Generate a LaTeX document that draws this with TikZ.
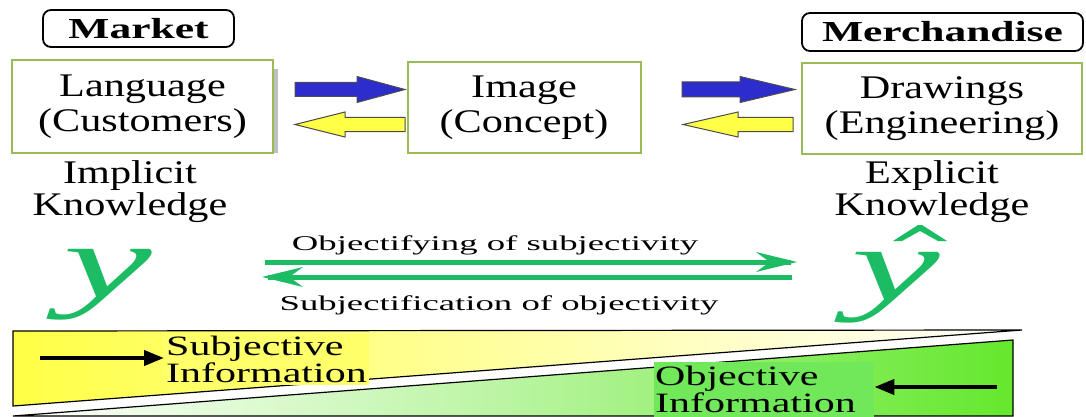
\documentclass[tikz,border=0pt]{standalone}
\usepackage{fontspec}
\setmainfont{Liberation Serif}
\newfontfamily\bigtxt[FakeStretch=1.28]{Liberation Serif}
\newfontfamily\lbltxt[FakeStretch=1.5]{Liberation Serif}
\newfontfamily\midtxt[FakeStretch=1.75]{Liberation Serif}
\newfontfamily\infotxt[FakeStretch=1.5]{Liberation Serif}
\newfontfamily\yfont[FakeStretch=1.9]{Liberation Serif}
\usetikzlibrary{arrows.meta,calc}
\definecolor{boxgreen}{RGB}{155,187,89}
\definecolor{ygreen}{RGB}{28,188,100}
\definecolor{ablue}{RGB}{45,45,205}
\definecolor{ayellow}{RGB}{255,255,70}
\definecolor{tyellow}{RGB}{255,255,105}
\definecolor{tgreen}{RGB}{100,232,45}
\definecolor{ogreen}{RGB}{112,232,90}
\newcommand{\rblock}[6]{% x1, x2 (tip), yc, head length, shaft half, head half
  \filldraw[blockarr,fill=ablue] (#1,{#3-#5}) -- ({#2-#4},{#3-#5}) -- ({#2-#4},{#3-#6}) -- (#2,#3)
    -- ({#2-#4},{#3+#6}) -- ({#2-#4},{#3+#5}) -- (#1,{#3+#5}) -- cycle;}
\newcommand{\lblock}[6]{% x1 (tip), x2, yc, head length, shaft half, head half
  \filldraw[blockarr,fill=ayellow] (#2,{#3-#5}) -- ({#1+#4},{#3-#5}) -- ({#1+#4},{#3-#6}) -- (#1,#3)
    -- ({#1+#4},{#3+#6}) -- ({#1+#4},{#3+#5}) -- (#2,{#3+#5}) -- cycle;}
\begin{document}
\begin{tikzpicture}[x=1pt,y=-1pt,
  cbox/.style={draw=boxgreen,line width=2pt,fill=white,align=center,inner sep=0pt,
    font=\bigtxt\fontsize{33}{35}\selectfont},
  tagbox/.style={draw=black,line width=1.8pt,rounded corners=8pt,inner sep=0pt,
    font=\lbltxt\bfseries\fontsize{29}{30}\selectfont},
  knowtxt/.style={align=center,inner sep=0pt,font=\bigtxt\fontsize{33}{32}\selectfont},
  ynode/.style={text=ygreen,inner sep=0pt,text height=47pt,text depth=21pt,
    font=\yfont\itshape\fontsize{105}{105}\selectfont},
  blockarr/.style={draw=black!70,line width=1pt},
  gline/.style={draw=ygreen,line width=5pt},
  barrow/.style={draw=black,line width=4pt,-{Triangle[length=20pt,width=15pt]}},
  midlbl/.style={inner sep=0pt,font=\midtxt\fontsize{21}{21}\selectfont},
  infolbl/.style={inner sep=2pt,align=left,font=\infotxt\fontsize{28}{27}\selectfont}]
\useasboundingbox (0,0) rectangle (1086,417);
\fill[white] (0,0) rectangle (1086,417);

% top tags
\node[tagbox,minimum width=191pt,minimum height=37pt] (market) at (138.5,28.5) {Market};
\node[tagbox,minimum width=281pt,minimum height=38pt] (merch) at (942.5,32) {Merchandise};

% boxes
\fill[black!25] (273,69) rectangle (278,153);
\node[cbox,minimum width=261pt,minimum height=93pt] (lang) at (142.5,106.5) {Language\\(Customers)};
\node[cbox,minimum width=233pt,minimum height=91pt] (img) at (524,107.5) {Image\\(Concept)};
\node[cbox,minimum width=280pt,minimum height=91pt] (draw) at (942,108.5) {Drawings\\(Engineering)};

% block arrows
\rblock{295}{405}{89.5}{48}{7}{13}
\lblock{295}{405}{124.5}{50}{7}{12.5}
\rblock{682}{795}{89.5}{55}{7.5}{13}
\lblock{683}{793}{124.5}{55}{7}{12.5}

% knowledge labels
\node[knowtxt] (impl) at (130,192) {Implicit\\Knowledge};
\node[knowtxt] (expl) at (932,192) {Explicit\\Knowledge};

% y and y-hat
\node[ynode,anchor=base] (yl) at (108,297) {y};
\node[ynode,anchor=base] (yr) at (896,300) {y};
\fill[ygreen] (893,241) -- (918,225) -- (922,225) -- (947,241) -- (938,241) -- (920,231) -- (902,241) -- cycle;

% green arrows
\coordinate (g1s) at (265,262);
\coordinate (g1e) at (797,262);
\coordinate (g2s) at (792,277);
\coordinate (g2e) at (262,277);
\draw[gline] (g1s) -- ($(g1e)+(-6,0)$);
\fill[ygreen] (g1e) -- ++(-41,-10) -- ++(11,8) -- ++(0,4) -- ++(-11,8) -- cycle;
\draw[gline] (g2s) -- ($(g2e)+(6,0)$);
\fill[ygreen] (g2e) -- ++(41,-10) -- ++(-11,8) -- ++(0,4) -- ++(11,8) -- cycle;
\node[midlbl,anchor=base] (objf) at (495,250) {Objectifying of subjectivity};
\node[midlbl,anchor=base] (subf) at (499,310) {Subjectification of objectivity};

% wedges
\shade[left color=ayellow,right color=white] (13,331) -- (1022,330) -- (13,406) -- cycle;
\draw[black,line width=1.2pt] (13,406) -- (13,331) -- (1022,330) -- cycle;
\shade[left color=white,right color=tgreen,middle color=white!55!tgreen] (13,416) -- (1013,340) -- (1013,416) -- cycle;
\draw[black,line width=1.2pt] (13,416) -- (1013,340) -- (1013,416) -- cycle;

\node[infolbl,fill=tyellow,anchor=north west] (subj) at (164,334) {Subjective\\Information};
\node[infolbl,fill=ogreen,anchor=south west,inner xsep=1pt,inner ysep=4pt,text width=218pt] (objv) at (654,417) {Objective\\Information};
\coordinate (ba1) at (40,358);
\coordinate (ba2) at (997,387);
\draw[barrow] (ba1) -- (ba1 -| subj.west);
\draw[barrow] (ba2) -- (ba2 -| objv.east);
\end{tikzpicture}
\end{document}
